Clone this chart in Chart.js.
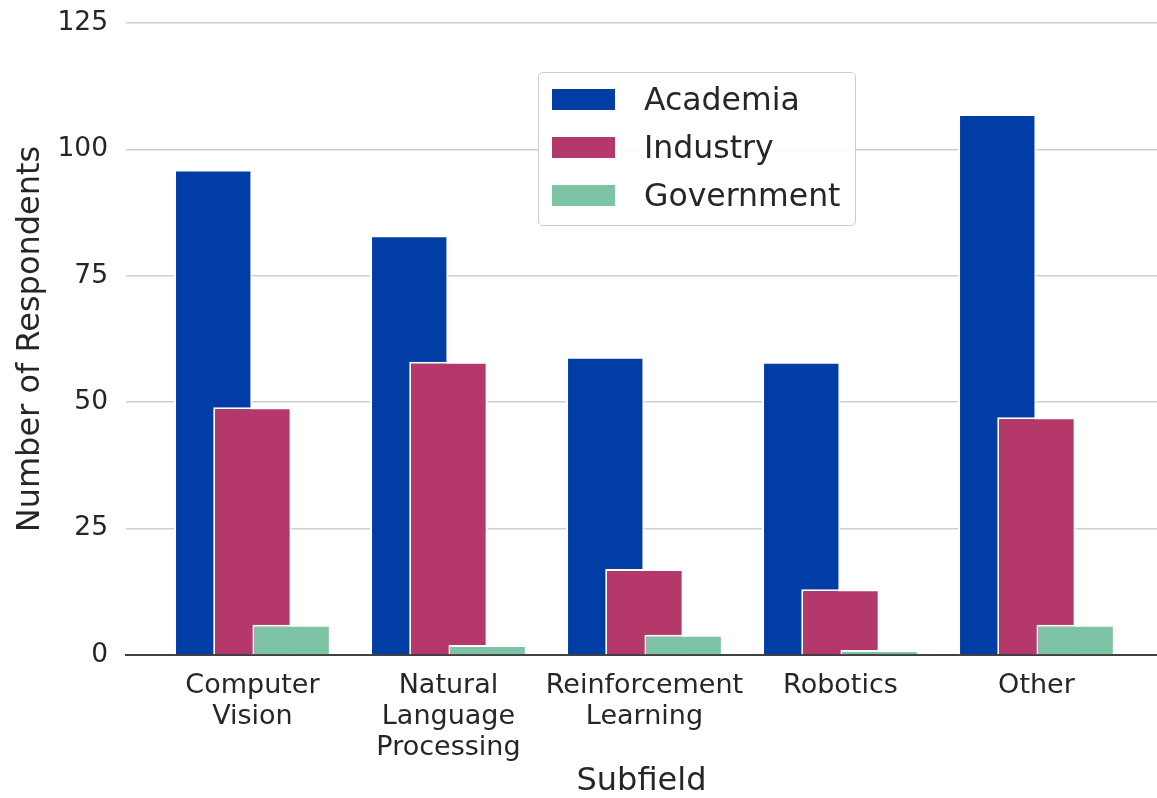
<!DOCTYPE html>
<html>
<head>
<meta charset="utf-8">
<script src="https://cdn.jsdelivr.net/npm/chart.js@4.4.1/dist/chart.umd.min.js"></script>
<style>
  body { margin: 0; background: #fff; }
  #wrap { position: relative; width: 1157px; height: 798px; }
  #legend {
    position: absolute; left: 538px; top: 72px; width: 316px; height: 152px;
    border: 1.5px solid #cccccc; border-radius: 5px; background: rgba(255,255,255,0.9);
    font-family: 'DejaVu Sans'; font-size: 31.5px; color: #262626;
  }
  .row { position: absolute; left: 13px; height: 48px; display: flex; align-items: center; }
  .sw { width: 63px; height: 21px; margin-right: 29px; }
</style>
</head>
<body>
<div id="wrap">
  <canvas id="myChart"></canvas>
  <div id="legend"></div>
</div>
<script>
// data
const categories = [['Computer', 'Vision'], ['Natural', 'Language', 'Processing'], ['Reinforcement', 'Learning'], ['Robotics'], ['Other']];
const academia = [96, 83, 59, 58, 107];
const industry = [49, 58, 17, 13, 47];
const government = [6, 2, 4, 1, 6];
const yTicks = [0, 25, 50, 75, 100, 125];

const colors = { academia: '#023da5', industry: '#b5386a', government: '#7cc4a5' };

// bars sit side by side, overlapping, at index -0.2 / 0 / +0.2
const toPoints = (vals, shift) => vals.map((v, i) => ({ x: i + shift, y: v }));

Chart.defaults.font.family = 'DejaVu Sans';
Chart.defaults.color = '#262626';

const barStyle = {
    borderColor: '#ffffff',
    borderWidth: 2,
    borderSkipped: 'start',
    grouped: false,
    categoryPercentage: 1,
    barPercentage: 2,
};

const data = {
    datasets: [
        { label: 'Academia', data: toPoints(academia, -0.2), backgroundColor: colors.academia, order: 3, ...barStyle },
        { label: 'Industry', data: toPoints(industry, 0), backgroundColor: colors.industry, order: 2, ...barStyle },
        { label: 'Government', data: toPoints(government, 0.2), backgroundColor: colors.government, order: 1, ...barStyle },
    ],
};

const config = {
    type: 'bar',
    data: data,
    options: {
        responsive: true,
        maintainAspectRatio: false,
        animation: false,
        layout: { padding: { top: 23, right: 0, left: 0, bottom: 0 } },
        plugins: {
            legend: { display: false },
            tooltip: { enabled: false },
        },
        scales: {
            x: {
                type: 'linear',
                min: -0.645,
                max: 4.615,
                offset: false,
                z: 1,
                grid: { display: false, drawTicks: false, offset: false },
                border: { display: true, color: '#404040', width: 2 },
                afterBuildTicks: (scale) => { scale.ticks = categories.map((c, i) => ({ value: i })); },
                afterFit: (scale) => { scale.height = 143; },
                ticks: {
                    autoSkip: false,
                    maxRotation: 0,
                    padding: 15,
                    font: { size: 27, lineHeight: 1.15 },
                    callback: (value) => categories[value],
                },
                title: {
                    display: true,
                    text: 'Subfield',
                    font: { size: 32, lineHeight: 1.2 },
                    padding: { top: 0, bottom: -3 },
                },
            },
            y: {
                min: 0,
                max: 125,
                grid: { color: '#cfcfcf', lineWidth: 1.5, drawTicks: false },
                border: { display: false },
                afterBuildTicks: (scale) => { scale.ticks = yTicks.map(v => ({ value: v })); },
                afterFit: (scale) => {
                    scale.width = 126;
                    scale.paddingTop = 0;
                    scale.paddingBottom = 0;
                },
                ticks: { padding: 18, font: { size: 26.5 } },
                title: {
                    display: true,
                    text: 'Number of Respondents',
                    font: { size: 32, lineHeight: 1.2 },
                    padding: { top: 11, bottom: 0 },
                },
            },
        },
    },
};

// Create the chart
const ctx = document.getElementById('myChart').getContext('2d');
const myChart = new Chart(ctx, config);

// legend box built from the datasets
const legendEl = document.getElementById('legend');
myChart.data.datasets.forEach((ds, k) => {
    const row = document.createElement('div');
    row.className = 'row';
    row.style.top = (2 + k * 48) + 'px';
    row.innerHTML = `<span class="sw" style="background:${ds.backgroundColor}"></span><span>${ds.label}</span>`;
    legendEl.appendChild(row);
});
</script>
</body>
</html>
